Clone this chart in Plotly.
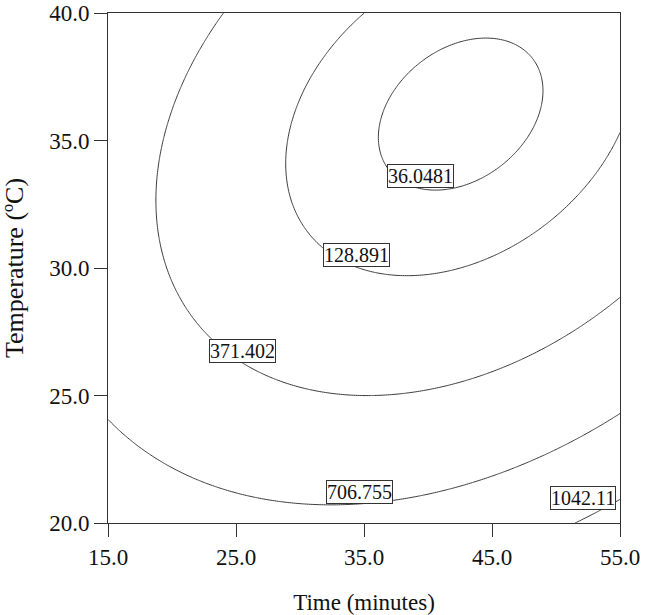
import numpy as np
import plotly.graph_objects as go

# ---- data (Time in minutes, Temperature in °C) ----
x_ticks = [15.0, 25.0, 35.0, 45.0, 55.0]
y_ticks = [20.0, 25.0, 30.0, 35.0, 40.0]

# contour levels shown in the chart
level_main = [36.0481, 371.402, 706.755, 1042.11]
level_extra = [128.891]

# points (time, temperature)
c36_t = [44.77, 48.88, 36.04, 39.90, 38.07, 47.19, 47.71, 44.59, 36.77]
c36_T = [39.02, 36.98, 35.15, 33.03, 37.64, 38.55, 35.02, 33.65, 36.59]

c128_t = [34.95, 30.00, 28.96, 29.35, 30.52, 34.16, 38.59, 41.72, 45.63, 49.53, 52.40, 54.22, 55.00]
c128_T = [39.96, 36.20, 33.97, 32.67, 31.62, 30.12, 29.66, 29.79, 30.44, 31.62, 33.06, 34.36, 35.48]

c371_t = [24.22, 22.19, 19.59, 18.85, 19.06, 20.10, 22.97, 25.57, 28.70, 32.60, 34.69, 37.29, 41.20, 45.10, 49.00, 52.40, 55.00]
c371_T = [39.96, 37.24, 35.02, 32.67, 30.71, 29.53, 27.24, 26.26, 25.48, 25.02, 24.95, 24.98, 25.35, 26.00, 26.98, 28.03, 28.87]

c706_t = [15.00, 18.28, 22.19, 26.09, 30.00, 34.45, 41.20, 45.10, 49.00, 52.40, 55.00]
c706_T = [24.04, 22.73, 21.69, 20.97, 20.67, 20.55, 21.42, 22.01, 22.86, 23.65, 24.30]

c1042_t = [51.35, 53.44, 55.00]
c1042_T = [20.00, 20.51, 20.90]

# top-left corner: no 706.755 line reaches it, so the response there stays below that level
corner_t, corner_T, corner_val = 15.0, 40.0, 695.0

label_text = ["36.0481", "128.891", "371.402", "706.755", "1042.11"]

# ---- fit the quadratic response surface through the read contour points ----
pts = [
    (c36_t, c36_T, 36.0481),
    (c128_t, c128_T, 128.891),
    (c371_t, c371_T, 371.402),
    (c706_t, c706_T, 706.755),
    (c1042_t, c1042_T, 1042.11),
]
PT, PY, LV = [], [], []
for ts, Ts, lv in pts:
    for t, T in zip(ts, Ts):
        PT.append(t); PY.append(T); LV.append(lv)
PT.append(corner_t); PY.append(corner_T); LV.append(corner_val)
PT, PY, LV = np.array(PT), np.array(PY), np.array(LV)
extra_w = np.ones_like(PT)
extra_w[-1] = 6.0


def feats(X, Y):
    u, v = (X - 35.0) / 20.0, (Y - 30.0) / 10.0
    return np.stack([np.ones_like(u), u, v, u * u, v * v, u * v], axis=-1)


A = feats(PT, PY)
w = np.ones_like(PT)
for _ in range(10):
    coef, *_ = np.linalg.lstsq(A * (w * extra_w)[:, None], LV * w * extra_w, rcond=None)
    u, v = (PT - 35.0) / 20.0, (PY - 30.0) / 10.0
    gu = coef[1] + 2 * coef[3] * u + coef[5] * v
    gv = coef[2] + 2 * coef[4] * v + coef[5] * u
    # gradient per screen pixel (20 min = 256 px, 10 degrees = 255 px)
    g = np.hypot(gu / 256.0, gv / 255.0)
    w = 1.0 / np.maximum(g, 1e-6)

gx = np.linspace(15, 55, 241)
gy = np.linspace(20, 40, 241)
GX, GY = np.meshgrid(gx, gy)
Z = feats(GX, GY) @ coef

line_col = "#3c3c3c"
fig = go.Figure()
step = level_main[1] - level_main[0]
fig.add_trace(go.Contour(
    x=gx, y=gy, z=Z, autocontour=False,
    contours=dict(start=level_main[0], end=level_main[-1] + 1e-6, size=step, coloring="lines"),
    line=dict(color=line_col, width=1), showscale=False, hoverinfo="skip",
    colorscale=[[0, line_col], [1, line_col]],
))
fig.add_trace(go.Contour(
    x=gx, y=gy, z=Z, autocontour=False,
    contours=dict(start=level_extra[0], end=level_extra[0] + 1e-6, size=1000, coloring="lines"),
    line=dict(color=line_col, width=1), showscale=False, hoverinfo="skip",
    colorscale=[[0, line_col], [1, line_col]],
))

label_pos = [(39.42, 33.60), (34.39, 30.50), (25.51, 26.75), (34.62, 21.23), (52.07, 20.98)]
for txt, (px, py) in zip(label_text, label_pos):
    fig.add_annotation(
        x=px, y=py, text=txt, showarrow=False,
        font=dict(family="Liberation Serif", size=20, color="#111"),
        bgcolor="white", bordercolor="#333", borderwidth=1, borderpad=0,
    )

axis_common = dict(
    showgrid=False, zeroline=False, showline=True, linecolor="#333", linewidth=1,
    mirror=True, ticks="outside", ticklen=13, tickcolor="#333", tickwidth=1,
    tickfont=dict(family="Liberation Serif", size=23, color="#111"),
    tickformat=".1f", automargin=False, ticklabeloverflow="allow",
)
fig.update_xaxes(range=[15, 55], tickvals=x_ticks, **axis_common,
                 title=dict(text="Time (minutes)", font=dict(family="Liberation Serif", size=23, color="#111"), standoff=25))
fig.update_yaxes(range=[20, 40], tickvals=y_ticks, **axis_common,
                 title=dict(text="Temperature (ºC)", font=dict(family="Liberation Serif", size=26, color="#111"), standoff=20))

fig.update_layout(
    width=645, height=615,
    margin=dict(l=108, r=25, t=13, b=92, autoexpand=False),
    plot_bgcolor="white", paper_bgcolor="white",
    showlegend=False,
)
fig.write_html("out.html", config={"displayModeBar": False},
               post_script="document.body.style.margin='0px';")
